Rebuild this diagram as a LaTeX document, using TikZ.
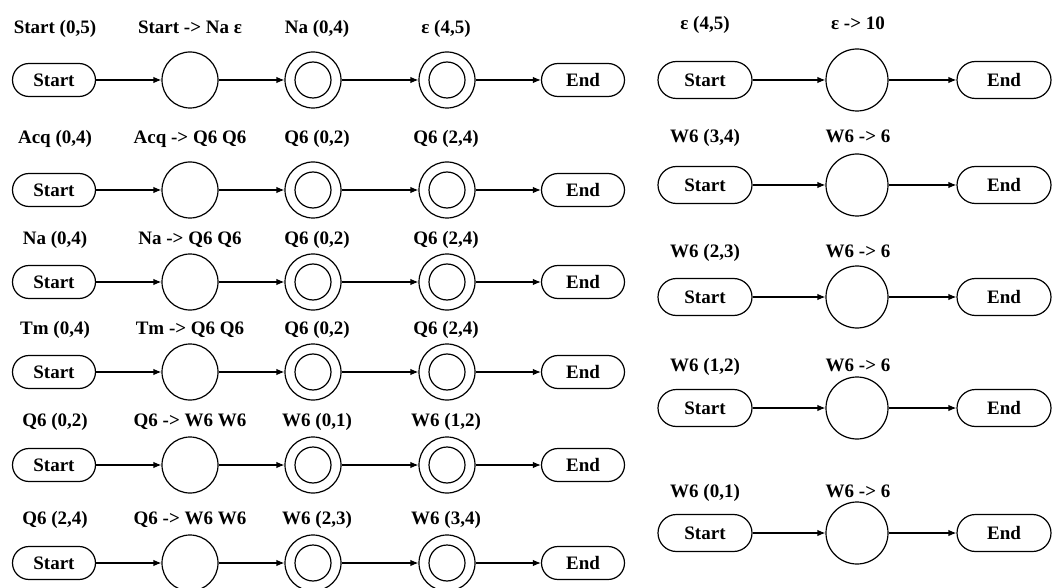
\documentclass[tikz,border=0pt]{standalone}
\usepackage{fontspec}
\setmainfont{Liberation Serif}
\usetikzlibrary{arrows.meta,shapes.misc}

\begin{document}
\begin{tikzpicture}[x=1pt, y=-1pt,
			font=\fontsize{19}{21}\selectfont\bfseries,
			line width=1.2pt,
			tag/.style={anchor=base, inner sep=0pt, yshift=-6pt},
			term/.style={
				rounded rectangle,
				draw,
				inner sep=0pt,
				minimum width=83pt,
				minimum height=33pt},
			wide/.style={minimum width=94pt, minimum height=37pt},
			state/.style={circle, draw, inner sep=0pt, minimum size=56pt},
			accept/.style={state,
				path picture={\draw (path picture bounding box.center) circle [radius=18pt];}},
			flow/.style={-{Latex[length=8pt, width=6.5pt]}}]
			\useasboundingbox (0,0) rectangle (1055,588);
			% left column: Start -> o -> (o) -> (o) -> End
			\foreach \r/\ny/\ly/\la/\lb/\lc/\ld in {
				1/80/28/{Start (0,5)}/{Start -> Na ε}/{Na (0,4)}/{ε (4,5)},
				2/190/138/{Acq (0,4)}/{Acq -> Q6 Q6}/{Q6 (0,2)}/{Q6 (2,4)},
				3/282/238/{Na (0,4)}/{Na -> Q6 Q6}/{Q6 (0,2)}/{Q6 (2,4)},
				4/372/328/{Tm (0,4)}/{Tm -> Q6 Q6}/{Q6 (0,2)}/{Q6 (2,4)},
				5/465/420/{Q6 (0,2)}/{Q6 -> W6 W6}/{W6 (0,1)}/{W6 (1,2)},
				6/563/518/{Q6 (2,4)}/{Q6 -> W6 W6}/{W6 (2,3)}/{W6 (3,4)}}
			{
				\node[tag] (la\r) at (55,\ly) {\la};
				\node[tag] (lb\r) at (190,\ly) {\lb};
				\node[tag] (lc\r) at (317,\ly) {\lc};
				\node[tag] (ld\r) at (446,\ly) {\ld};
				\node[term] (s\r) at (54,\ny) {Start};
				\node[state] (c\r) at (190,\ny) {};
				\node[accept] (p\r) at (313,\ny) {};
				\node[accept] (q\r) at (447,\ny) {};
				\node[term] (e\r) at (583,\ny) {End};
				\draw[flow] (s\r.east) -- (c\r.west);
				\draw[flow] (c\r.east) -- (p\r.west);
				\draw[flow] (p\r.east) -- (q\r.west);
				\draw[flow] (q\r.east) -- (e\r.west);
			}
			% right column: Start -> o -> End
			\foreach \r/\ny/\ly/\la/\lb in {
				1/80/24/{ε (4,5)}/{ε -> 10},
				2/185/137/{W6 (3,4)}/{W6 -> 6},
				3/297/252/{W6 (2,3)}/{W6 -> 6},
				4/408/365/{W6 (1,2)}/{W6 -> 6},
				5/533/491/{W6 (0,1)}/{W6 -> 6}}
			{
				\node[tag] (ra\r) at (705,\ly) {\la};
				\node[tag] (rb\r) at (858,\ly) {\lb};
				\node[term, wide] (rs\r) at (705,\ny) {Start};
				\node[state, minimum size=62pt] (rc\r) at (857,\ny) {};
				\node[term, wide] (re\r) at (1004,\ny) {End};
				\draw[flow] (rs\r.east) -- (rc\r.west);
				\draw[flow] (rc\r.east) -- (re\r.west);
			}
\end{tikzpicture}
\end{document}
